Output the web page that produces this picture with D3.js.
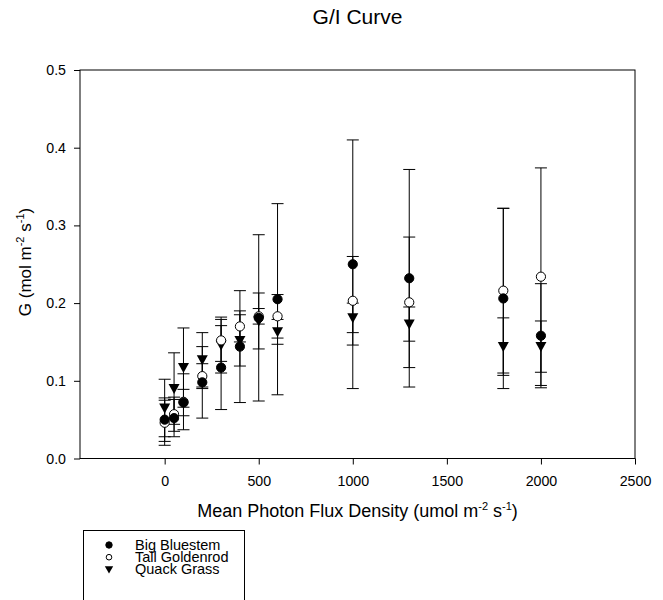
<!DOCTYPE html>
<html><head><meta charset="utf-8">
<script src="https://cdn.jsdelivr.net/npm/d3@7"></script>
<style>body{margin:0;background:#fff}text{font-family:"Liberation Sans",Arial,sans-serif}</style>
</head><body><svg id="c" width="663" height="600"></svg>
<script>
const ppfd = [0, 50, 100, 200, 300, 400, 500, 600, 1000, 1300, 1800, 2000];
const bigBluestem     = [0.050, 0.052, 0.072, 0.098, 0.117, 0.144, 0.181, 0.205, 0.250, 0.232, 0.206, 0.158];
const bigBluestemErr  = [0.028, 0.024, 0.017, 0.046, 0.054, 0.072, 0.107, 0.123, 0.160, 0.140, 0.116, 0.067];
const tallGoldenrod    = [0.046, 0.057, 0.073, 0.106, 0.152, 0.170, 0.183, 0.183, 0.203, 0.201, 0.216, 0.234];
const tallGoldenrodErr = [0.029, 0.022, 0.036, 0.016, 0.027, 0.020, 0.010, 0.028, 0.057, 0.084, 0.106, 0.140];
const quackGrass    = [0.065, 0.090, 0.117, 0.127, 0.146, 0.152, 0.177, 0.163, 0.181, 0.173, 0.144, 0.144];
const quackGrassErr = [0.037, 0.046, 0.051, 0.035, 0.036, 0.033, 0.036, 0.016, 0.019, 0.022, 0.037, 0.033];
const xTicks = [0, 500, 1000, 1500, 2000, 2500];
const yTicks = [0.0, 0.1, 0.2, 0.3, 0.4, 0.5];
const seriesNames = ["Big Bluestem", "Tall Goldenrod", "Quack Grass"];

const svg = d3.select("#c");
const x = d3.scaleLinear().domain([-450, 2500]).range([80, 635]);
const y = d3.scaleLinear().domain([0, 0.5]).range([458.5, 70]);

svg.append("text").attr("x", 357.5).attr("y", 24).attr("text-anchor", "middle")
  .attr("font-size", 21).text("G/I Curve");

// frame
svg.append("rect").attr("x", 80).attr("y", 70).attr("width", 555).attr("height", 388.5)
  .attr("fill", "none").attr("stroke", "#000").attr("stroke-width", 1);

const xa = svg.append("g").attr("transform", "translate(0,458.5)")
  .call(d3.axisBottom(x).tickValues(xTicks).tickSize(6).tickPadding(11).tickFormat(d3.format("d")));
const ya = svg.append("g").attr("transform", "translate(80,0)")
  .call(d3.axisLeft(y).tickValues(yTicks).tickSize(6).tickPadding(8).tickFormat(d3.format(".1f")));
[xa, ya].forEach(a => {
  a.select(".domain").remove();
  a.selectAll("text").attr("font-size", 14.2).attr("fill", "#000")
    .attr("font-family", '"Liberation Sans",Arial,sans-serif');
  a.selectAll("line").attr("stroke", "#000");
});

// axis titles
const xt = svg.append("text").attr("x", 357.5).attr("y", 517).attr("text-anchor", "middle").attr("font-size", 18);
xt.append("tspan").text("Mean Photon Flux Density (umol m");
xt.append("tspan").attr("font-size", 11).attr("dy", -7).text("-2");
xt.append("tspan").attr("dy", 7).text(" s");
xt.append("tspan").attr("font-size", 11).attr("dy", -7).text("-1");
xt.append("tspan").attr("dy", 7).text(")");

const yt = svg.append("text").attr("transform", "translate(31,262) rotate(-90)")
  .attr("text-anchor", "middle").attr("font-size", 17);
yt.append("tspan").text("G (mol m");
yt.append("tspan").attr("font-size", 11).attr("dy", -7).text("-2");
yt.append("tspan").attr("dy", 7).text(" s");
yt.append("tspan").attr("font-size", 11).attr("dy", -7).text("-1");
yt.append("tspan").attr("dy", 7).text(")");

const series = [
  {vals: bigBluestem, err: bigBluestemErr, kind: "filled"},
  {vals: tallGoldenrod, err: tallGoldenrodErr, kind: "open"},
  {vals: quackGrass, err: quackGrassErr, kind: "tri"}
];

function drawMarker(g, kind, cx, cy) {
  if (kind === "tri") {
    g.append("path").attr("d", `M${cx-5.5},${cy-4.5}L${cx+5.5},${cy-4.5}L${cx},${cy+5.5}Z`).attr("fill", "#000");
  } else {
    g.append("circle").attr("cx", cx).attr("cy", cy).attr("r", 4.6)
      .attr("fill", kind === "filled" ? "#000" : "#fff").attr("stroke", "#000").attr("stroke-width", 1);
  }
}

const eb = svg.append("g").attr("stroke", "#000").attr("stroke-width", 1);
series.forEach(s => {
  ppfd.forEach((p, i) => {
    const cx = x(p), hi = y(s.vals[i] + s.err[i]), lo = y(s.vals[i] - s.err[i]);
    eb.append("line").attr("x1", cx).attr("x2", cx).attr("y1", hi).attr("y2", lo);
    eb.append("line").attr("x1", cx - 6).attr("x2", cx + 6).attr("y1", hi).attr("y2", hi);
    eb.append("line").attr("x1", cx - 6).attr("x2", cx + 6).attr("y1", lo).attr("y2", lo);
  });
});
const mk = svg.append("g");
series.slice().reverse().forEach(s => {
  ppfd.forEach((p, i) => drawMarker(mk, s.kind, x(p), y(s.vals[i])));
});

// legend
const lg = svg.append("g");
lg.append("rect").attr("x", 83.5).attr("y", 530.5).attr("width", 161).attr("height", 90)
  .attr("fill", "none").attr("stroke", "#000");
seriesNames.forEach((n, i) => {
  const cy = 545 + i * 12.2;
  const kind = series[i].kind;
  if (kind === "tri") {
    lg.append("path").attr("d", `M${109-4.2},${cy-3.2}L${109+4.2},${cy-3.2}L109,${cy+4.2}Z`).attr("fill", "#000");
  } else {
    lg.append("circle").attr("cx", 109).attr("cy", cy).attr("r", kind === "filled" ? 3.2 : 2.8)
      .attr("fill", kind === "filled" ? "#000" : "#fff").attr("stroke", "#000").attr("stroke-width", 1);
  }
  lg.append("text").attr("x", 135).attr("y", cy + 5).attr("font-size", 14.5).text(n);
});
</script></body></html>
